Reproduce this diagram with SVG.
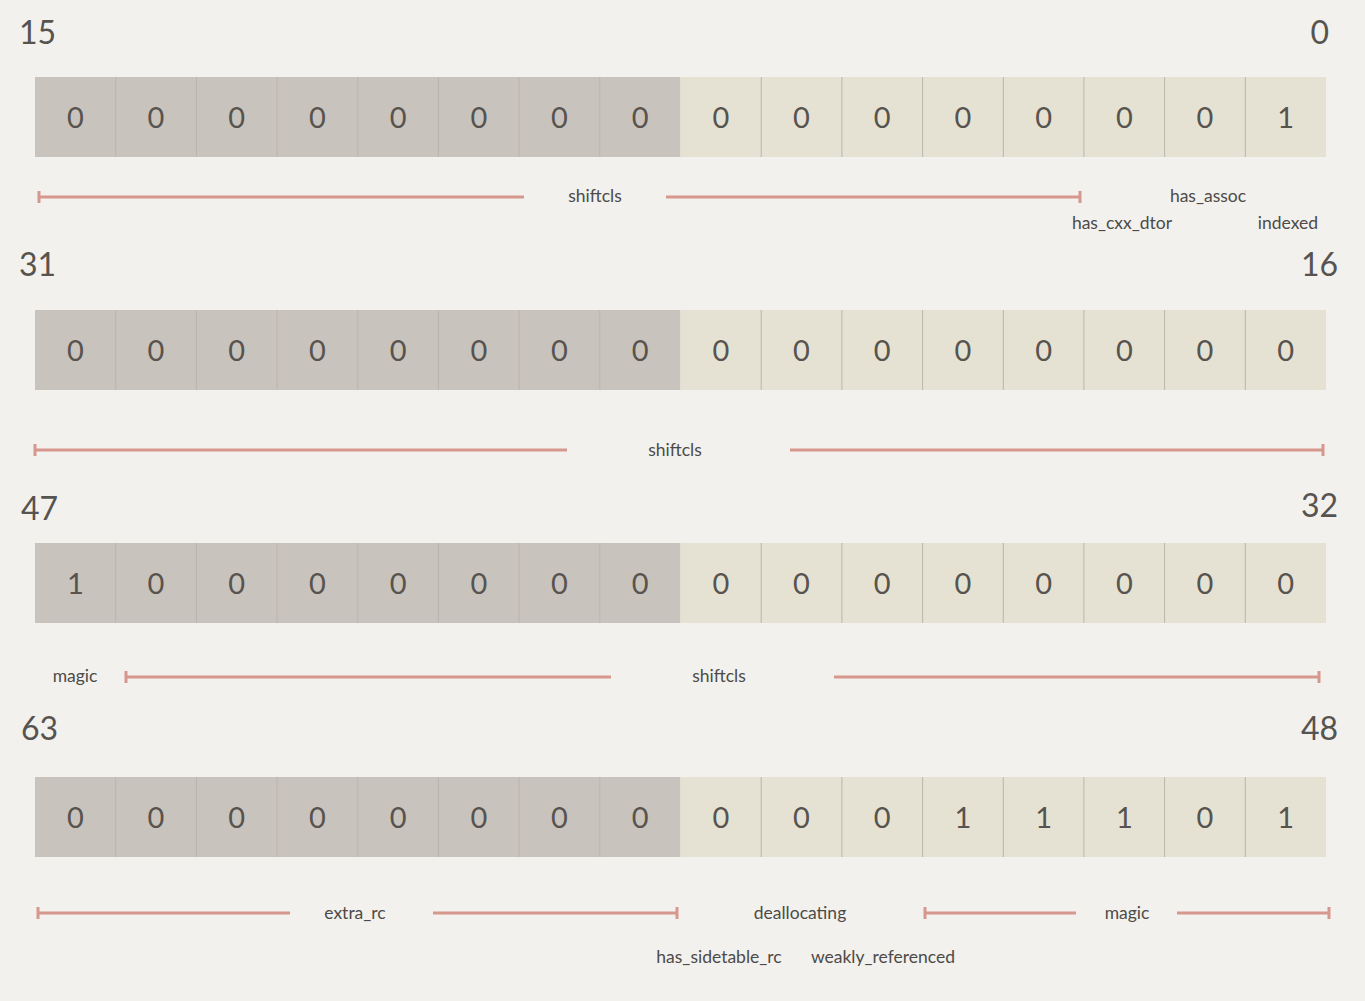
<svg xmlns="http://www.w3.org/2000/svg" width="1365" height="1001" viewBox="0 0 1365 1001">
<defs>
<style>
.bg{fill:#f2f1ee}
.d{fill:#c9c3bd}
.l{fill:#e5e2d3}
.sep{stroke:#b9b5ad;stroke-width:1}
.dig{font-family:Lato,"Open Sans","Liberation Sans",sans-serif;font-size:29px;fill:#57534e;text-anchor:middle}
.num{font-family:Lato,"Open Sans","Liberation Sans",sans-serif;font-size:32px;fill:#57534e}
.lab{font-family:Lato,"Open Sans","Liberation Sans",sans-serif;font-size:17.5px;fill:#4d4b48;text-anchor:middle}
.br{stroke:#d6978c;stroke-width:3;fill:none}
</style>
<g id="cells">
<rect class="d" x="35" y="0" width="645.5" height="80"/>
<rect class="l" x="680.5" y="0" width="645.5" height="80"/>
<path class="sep" d="M115.7 0V80M196.4 0V80M277.1 0V80M357.8 0V80M438.4 0V80M519.1 0V80M599.8 0V80M761.2 0V80M841.9 0V80M922.6 0V80M1003.3 0V80M1083.9 0V80M1164.6 0V80M1245.3 0V80"/>
</g>
</defs>
<rect class="bg" width="1365" height="1001"/>

<g id="row0">
<text class="num" x="19" y="44">15</text>
<text class="num" x="1329" y="44" text-anchor="end">0</text>
<use href="#cells" y="77"/>
<g transform="translate(0,128)">
<text class="dig" x="75.3">0</text><text class="dig" x="156">0</text><text class="dig" x="236.7">0</text><text class="dig" x="317.4">0</text><text class="dig" x="398.1">0</text><text class="dig" x="478.8">0</text><text class="dig" x="559.5">0</text><text class="dig" x="640.2">0</text><text class="dig" x="720.8">0</text><text class="dig" x="801.5">0</text><text class="dig" x="882.2">0</text><text class="dig" x="962.9">0</text><text class="dig" x="1043.6">0</text><text class="dig" x="1124.3">0</text><text class="dig" x="1205">0</text><text class="dig" x="1285.7">1</text>
</g>
</g>

<g id="row1">
<text class="num" x="19" y="276">31</text>
<text class="num" x="1338" y="276" text-anchor="end">16</text>
<use href="#cells" y="310"/>
<g transform="translate(0,361)">
<text class="dig" x="75.3">0</text><text class="dig" x="156">0</text><text class="dig" x="236.7">0</text><text class="dig" x="317.4">0</text><text class="dig" x="398.1">0</text><text class="dig" x="478.8">0</text><text class="dig" x="559.5">0</text><text class="dig" x="640.2">0</text><text class="dig" x="720.8">0</text><text class="dig" x="801.5">0</text><text class="dig" x="882.2">0</text><text class="dig" x="962.9">0</text><text class="dig" x="1043.6">0</text><text class="dig" x="1124.3">0</text><text class="dig" x="1205">0</text><text class="dig" x="1285.7">0</text>
</g>
</g>

<g id="row2">
<text class="num" x="21" y="520">47</text>
<text class="num" x="1338" y="517" text-anchor="end">32</text>
<use href="#cells" y="543"/>
<g transform="translate(0,594)">
<text class="dig" x="75.3">1</text><text class="dig" x="156">0</text><text class="dig" x="236.7">0</text><text class="dig" x="317.4">0</text><text class="dig" x="398.1">0</text><text class="dig" x="478.8">0</text><text class="dig" x="559.5">0</text><text class="dig" x="640.2">0</text><text class="dig" x="720.8">0</text><text class="dig" x="801.5">0</text><text class="dig" x="882.2">0</text><text class="dig" x="962.9">0</text><text class="dig" x="1043.6">0</text><text class="dig" x="1124.3">0</text><text class="dig" x="1205">0</text><text class="dig" x="1285.7">0</text>
</g>
</g>

<g id="row3">
<text class="num" x="21" y="740">63</text>
<text class="num" x="1338" y="740" text-anchor="end">48</text>
<use href="#cells" y="777"/>
<g transform="translate(0,828)">
<text class="dig" x="75.3">0</text><text class="dig" x="156">0</text><text class="dig" x="236.7">0</text><text class="dig" x="317.4">0</text><text class="dig" x="398.1">0</text><text class="dig" x="478.8">0</text><text class="dig" x="559.5">0</text><text class="dig" x="640.2">0</text><text class="dig" x="720.8">0</text><text class="dig" x="801.5">0</text><text class="dig" x="882.2">0</text><text class="dig" x="962.9">1</text><text class="dig" x="1043.6">1</text><text class="dig" x="1124.3">1</text><text class="dig" x="1205">0</text><text class="dig" x="1285.7">1</text>
</g>
</g>

<g id="connectors">
<path class="br" d="M39 191V203M39 197H524M666 197H1080M1080 191V203"/>
<path class="br" d="M35 444V456M35 450H567M790 450H1323M1323 444V456"/>
<path class="br" d="M126 671V683M126 677H611M834 677H1319M1319 671V683"/>
<path class="br" d="M38 907V919M38 913H290M433 913H677M677 907V919M925 907V919M925 913H1076M1177 913H1329M1329 907V919"/>
</g>

<g id="labels">
<text class="lab" x="595" y="202">shiftcls</text>
<text class="lab" x="1208" y="202">has_assoc</text>
<text class="lab" x="1122" y="229">has_cxx_dtor</text>
<text class="lab" x="1288" y="229">indexed</text>
<text class="lab" x="675" y="456">shiftcls</text>
<text class="lab" x="75" y="682">magic</text>
<text class="lab" x="719" y="682">shiftcls</text>
<text class="lab" x="355" y="919">extra_rc</text>
<text class="lab" x="800" y="919">deallocating</text>
<text class="lab" x="1127" y="919">magic</text>
<text class="lab" x="719" y="963">has_sidetable_rc</text>
<text class="lab" x="883" y="963">weakly_referenced</text>
</g>
</svg>
